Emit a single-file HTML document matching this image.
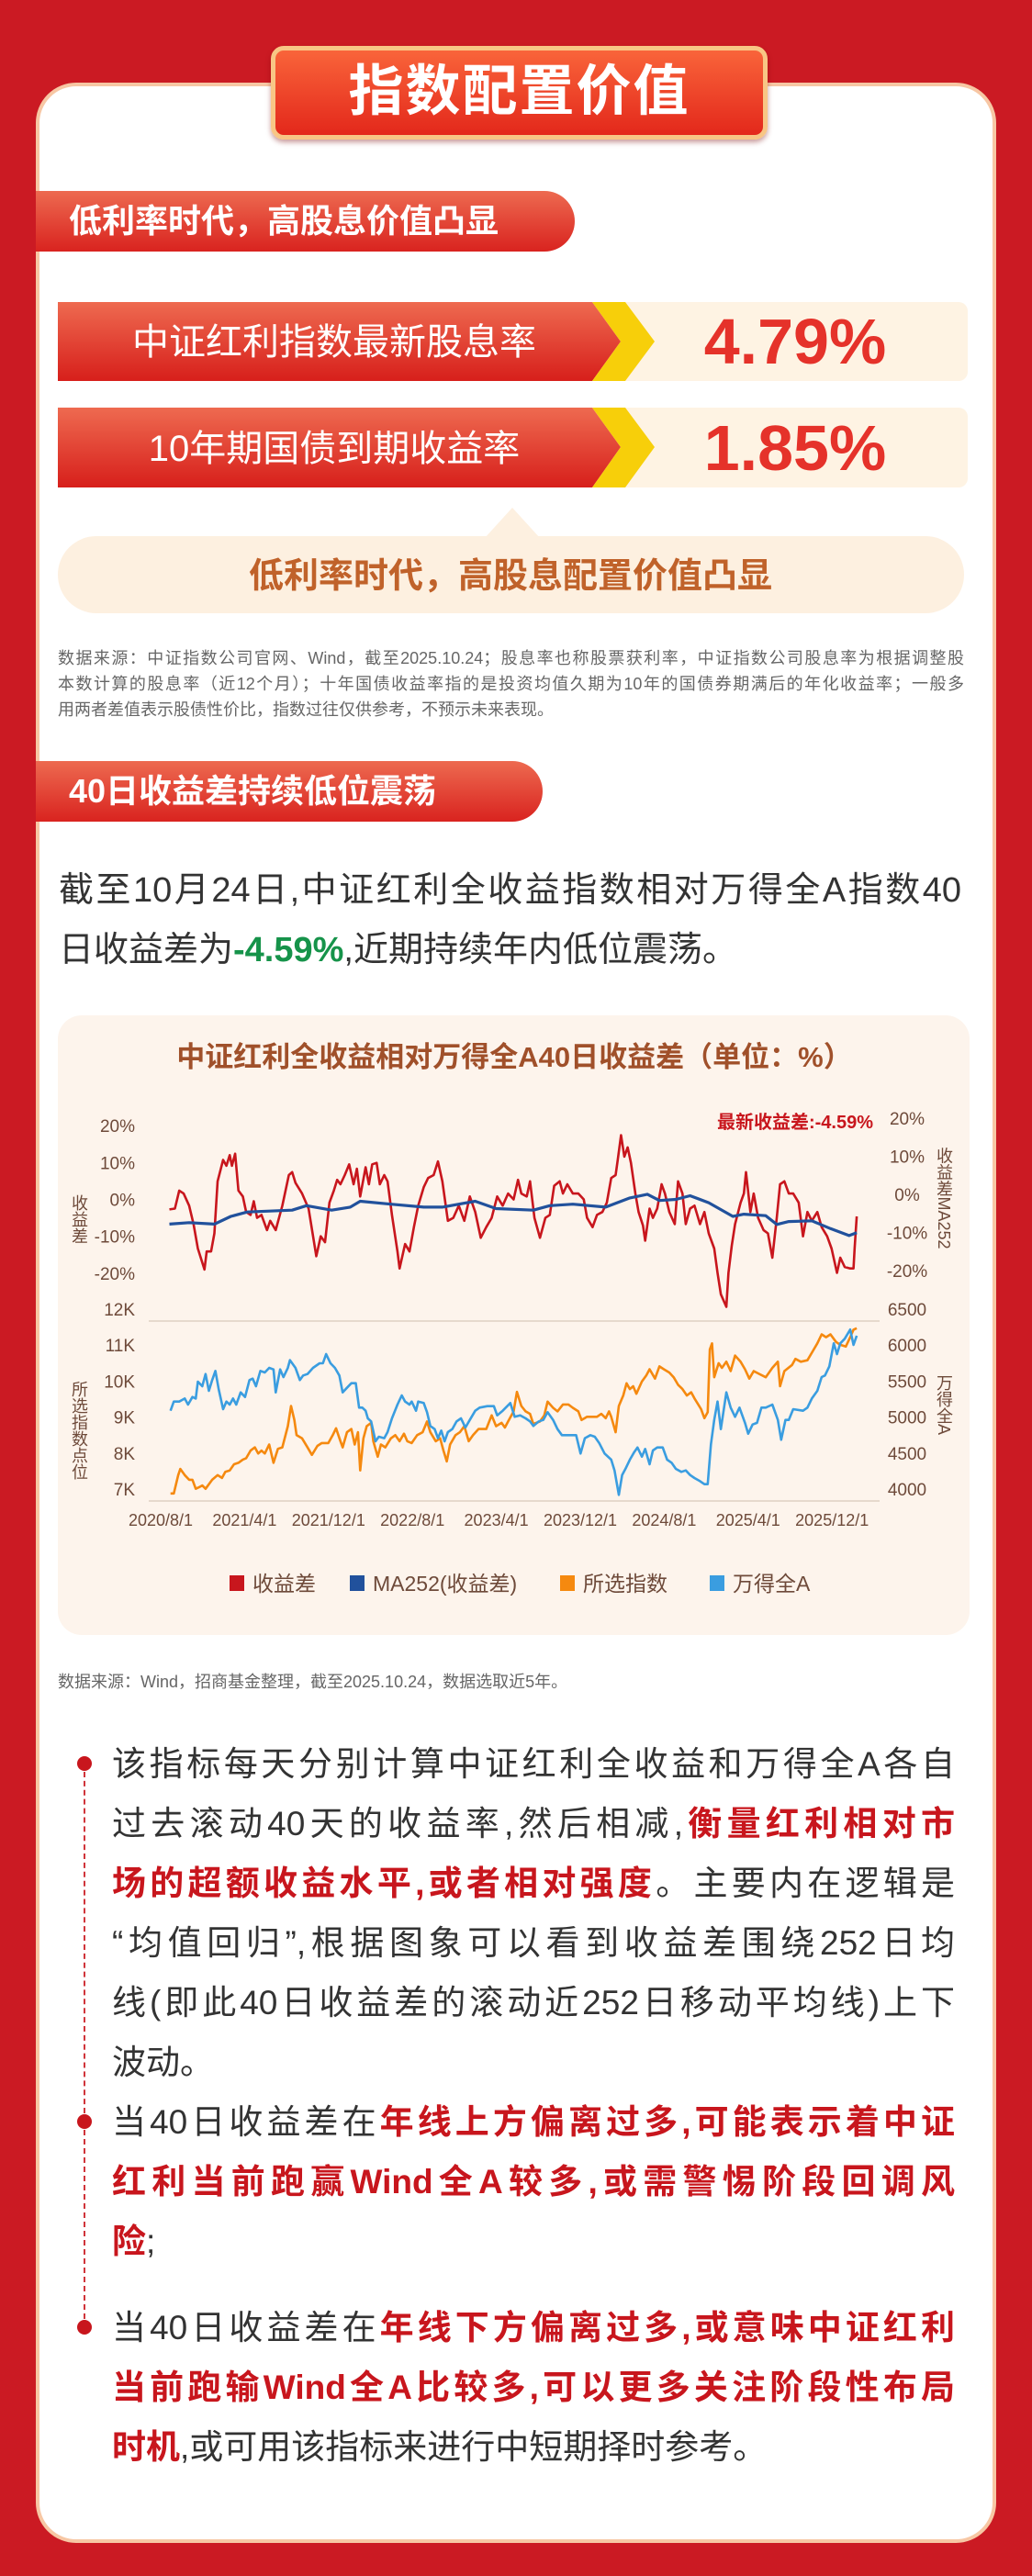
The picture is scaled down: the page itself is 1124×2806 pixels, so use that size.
<!DOCTYPE html>
<html lang="zh"><head><meta charset="utf-8">
<style>
*{margin:0;padding:0;box-sizing:border-box}
html,body{width:1124px;height:2806px;overflow:hidden}
body{background:#cb1a23;position:relative;font-family:"Liberation Sans","Noto Sans CJK SC",sans-serif;color:#333}
.abs{position:absolute}
.card{left:39px;top:90px;width:1046px;height:2680px;background:#fff;border:4px solid #f7c7a4;border-radius:44px}
.banner{left:295px;top:50px;width:541px;height:102px;border-radius:14px;border:5px solid #f8c685;background:linear-gradient(#f9643a,#e3281b);color:#fff;font-weight:bold;font-size:60px;text-align:center;line-height:90px;letter-spacing:2px;box-shadow:0 3px 6px rgba(120,0,0,.4)}
.sec{left:39px;height:66px;border-radius:0 33px 33px 0;background:linear-gradient(#ed6a50,#d9231f);color:#fff;font-weight:bold;font-size:36px;line-height:66px;padding-left:36px}
.just{text-align:justify;text-align-last:justify}
.foot{left:63px;width:987px;font-size:18px;line-height:28px;color:#666}
.para{left:64px;width:983px;font-size:38px;line-height:65px;color:#333}
.bl{left:122px;width:918px;font-size:37px;line-height:65px;color:#333}
.r{color:#c8161d;font-weight:bold}
.dot{width:16px;height:16px;border-radius:50%;background:#c8161d}
.dash{width:0;border-left:2px dashed #d0343a}
</style></head>
<body>
<div class="abs card"></div>
<div class="abs banner">指数配置价值</div>

<div class="abs sec" style="top:208px;width:587px">低利率时代，高股息价值凸显</div>

<svg class="abs" style="left:0;top:0" width="1124" height="700">
 <defs><linearGradient id="rg" x1="0" y1="0" x2="0" y2="1"><stop offset="0" stop-color="#ee6a50"/><stop offset="1" stop-color="#d71f1b"/></linearGradient></defs>
 <rect x="640" y="329" width="414" height="86" rx="10" fill="#fef3e3"/>
 <polygon points="63,329 645,329 676,372 645,415 63,415" fill="url(#rg)"/>
 <polygon points="645,329 681,329 713,372 681,415 645,415 676,372" fill="#f7cf0a"/>
 <text x="364" y="386" font-size="40" fill="#fff" text-anchor="middle">中证红利指数最新股息率</text>
 <text x="866" y="396" font-size="70" font-weight="bold" fill="#e5322a" text-anchor="middle">4.79%</text>
 <rect x="640" y="444" width="414" height="87" rx="10" fill="#fef3e3"/>
 <polygon points="63,444 645,444 676,487 645,531 63,531" fill="url(#rg)"/>
 <polygon points="645,444 681,444 713,487 681,531 645,531 676,487" fill="#f7cf0a"/>
 <text x="364" y="502" font-size="40" fill="#fff" text-anchor="middle">10年期国债到期收益率</text>
 <text x="866" y="512" font-size="70" font-weight="bold" fill="#e5322a" text-anchor="middle">1.85%</text>
 <polygon points="528,586 558,553 588,586" fill="#fdf0e0"/>
 <rect x="63" y="584" width="987" height="84" rx="42" fill="#fdf0e0"/>
 <text x="556" y="640" font-size="38" font-weight="bold" fill="#c0622a" text-anchor="middle">低利率时代，高股息配置价值凸显</text>
</svg>

<div class="abs foot just" style="top:703px"><div>数据来源：中证指数公司官网、Wind，截至2025.10.24；股息率也称股票获利率，中证指数公司股息率为根据调整股</div><div>本数计算的股息率（近12个月）；十年国债收益率指的是投资均值久期为10年的国债券期满后的年化收益率；一般多</div><div style="text-align-last:left">用两者差值表示股债性价比，指数过往仅供参考，不预示未来表现。</div></div>

<div class="abs sec" style="top:829px;width:552px">40日收益差持续低位震荡</div>

<div class="abs para" style="top:938px"><div class="just">截至10月24日,中证红利全收益指数相对万得全A指数40</div><div>日收益差为<span style="color:#16934a;font-weight:bold">-4.59%</span>,近期持续年内低位震荡。</div></div>

<div class="abs" style="left:63px;top:1106px;width:993px;height:675px;background:#fdf4ec;border-radius:26px"></div>

<svg id="chart" class="abs" style="left:0;top:0" width="1124" height="1800"></svg>

<div class="abs" style="left:63px;top:1818px;font-size:18px;color:#666">数据来源：Wind，招商基金整理，截至2025.10.24，数据选取近5年。</div>

<div class="abs dot" style="left:84px;top:1913px"></div>
<div class="abs dash" style="left:91px;top:1930px;height:372px"></div>
<div class="abs dot" style="left:84px;top:2303px"></div>
<div class="abs dash" style="left:91px;top:2320px;height:206px"></div>
<div class="abs dot" style="left:84px;top:2527px"></div>

<div class="abs bl" style="top:1889px">
<div class="just">该指标每天分别计算中证红利全收益和万得全A各自</div>
<div class="just">过去滚动40天的收益率,然后相减,<span class="r">衡量红利相对市</span></div>
<div class="just"><span class="r">场的超额收益水平,或者相对强度</span>。主要内在逻辑是</div>
<div class="just">“均值回归”,根据图象可以看到收益差围绕252日均</div>
<div class="just">线(即此40日收益差的滚动近252日移动平均线)上下</div>
<div>波动。</div>
</div>
<div class="abs bl" style="top:2279px">
<div class="just">当40日收益差在<span class="r">年线上方偏离过多,可能表示着中证</span></div>
<div class="just r">红利当前跑赢Wind全A较多,或需警惕阶段回调风</div>
<div><span class="r">险</span>;</div>
</div>
<div class="abs bl" style="top:2503px">
<div class="just">当40日收益差在<span class="r">年线下方偏离过多,或意味中证红利</span></div>
<div class="just r">当前跑输Wind全A比较多,可以更多关注阶段性布局</div>
<div><span class="r">时机</span>,或可用该指标来进行中短期择时参考。</div>
</div>

<script>
// months since 2020-08 and values
const spreadMonths=[0,0.5,0.9,1.3,1.8,2.2,2.6,3.2,3.4,3.8,4.1,4.4,4.9,5.2,5.5,5.7,6.0,6.3,6.7,7.0,7.4,7.7,8.0,8.4,8.9,9.2,9.7,10.3,10.9,11.2,11.5,12.1,12.7,13.4,13.8,14.2,14.6,15.0,15.3,15.6,16.0,16.4,16.8,17.1,17.4,17.9,18.2,18.5,18.9,19.2,19.6,19.9,20.3,20.8,21.0,21.5,21.9,22.3,22.7,23.2,23.6,24.1,24.5,24.9,25.4,25.9,26.4,26.9,27.4,27.9,28.4,28.9,29.4,29.9,30.4,30.9,31.4,31.8,32.1,32.6,32.9,33.3,33.8,34.3,34.7,35.1,35.6,35.9,36.3,36.8,37.3,37.8,38.1,38.6,39.0,39.5,39.9,40.3,40.7,40.9,41.2,41.5,41.8,42.1,42.5,42.8,43.2,43.4,43.8,44.1,44.5,44.9,45.2,45.6,46.1,46.4,46.8,47.1,47.5,47.9,48.4,48.8,49.2,49.7,50.0,50.3,50.8,51.0,51.3,51.6,52.1,52.4,52.6,53.0,53.3,53.7,54.2,54.6,55.0,55.4,55.7,56.1,56.5,56.9,57.4,57.8,58.2,58.6,59.1,59.5,60.0,60.4,60.9,61.2,61.6,62.1,62.4,62.5,62.7];
const spreadValues=[-2.7,-2.5,2.4,1.6,-1.7,-6.7,-13.3,-19.0,-14.1,-14.1,-9.2,4.9,10.7,9.1,12.0,9.1,12.4,2.4,0.8,-3.4,-4.2,-0.5,-5.0,-4.2,-8.3,-5.8,-8.3,-1.7,6.6,7.4,4.5,1.6,-2.5,-15.4,-10.0,-11.6,-0.9,2.4,5.3,4.1,6.6,9.5,4.1,8.3,0.8,8.7,4.1,9.5,9.9,4.1,6.6,4.9,-4.2,-14.1,-18.7,-12.1,-14.1,-7.5,-1.7,3.3,5.8,6.6,10.3,4.9,-5.8,-5.0,-1.7,-5.8,0.8,-3.4,-10.4,-7.5,-5.0,0.8,-1.7,1.6,0,5.3,1.6,0.8,4.9,-5.0,-10.4,-5.0,-4.2,3.7,4.9,1.6,4.1,1.6,1.6,0,-5.0,-7.5,-4.2,-3.4,-0.9,5.8,6.6,10.7,17.4,11.6,14.1,9.9,1.6,-3.4,-7.1,-11.2,-2.5,-5.0,-2.5,4.1,1.6,-3.4,-6.7,4.9,1.6,-6.7,-2.5,-1.7,-6.7,-3.4,-9.2,-13.3,-19.9,-25.7,-29.1,-19.9,-12.5,-6.7,-0.9,1.6,7.4,-3.4,1.6,-5.0,-8.3,-9.2,-15.8,-5.0,4.1,4.9,1.6,1.6,-0.9,-10.0,-3.4,-5.8,-3.4,-7.5,-10.0,-13.3,-19.9,-15.8,-18.3,-18.7,-18.7,-13.3,-4.6];
const maMonths=[0,1.8,4.1,5.6,7.1,11.2,12.5,14.8,16.5,17.4,20.2,23.2,24.9,27.9,29.8,33.2,34.7,36.8,39.8,42.0,43.6,44.7,46.2,47.5,49.2,51.4,52.4,54.4,55.4,56.5,58.6,60.3,62.0,62.7];
const maValues=[-6.7,-6.3,-6.7,-4.6,-3.4,-2.9,-1.7,-2.9,-2.1,-0.5,-1.3,-2.1,-2.1,-0.5,-2.5,-2.9,-1.7,-1.3,-2.1,0.4,1.4,-0.3,0,1.0,-0.9,-4.6,-4.0,-4.4,-6.8,-6.0,-5.8,-7.9,-9.8,-9.0];
const idxMonths=[0.1,0.4,0.8,1.0,1.4,1.8,2.1,2.4,2.7,3.0,3.3,3.9,4.4,4.8,5.1,5.5,5.9,6.3,6.7,7.0,7.4,7.8,8.1,8.4,8.7,9.1,9.5,9.9,10.3,10.8,11.1,11.4,11.6,12.1,12.6,13.0,13.5,13.9,14.5,14.9,15.2,15.6,15.8,16.2,16.6,16.9,17.2,17.4,17.7,18.0,18.4,18.6,19.0,19.3,19.7,20.2,20.6,21.0,21.4,21.7,22.1,22.6,23.1,23.5,23.8,24.3,24.7,25.0,25.3,25.6,26.1,26.5,26.9,27.3,27.7,28.2,28.9,29.4,29.8,30.3,30.6,30.9,31.4,31.7,32.1,32.5,32.9,33.2,33.8,34.2,34.5,35.0,35.4,35.9,36.4,36.8,37.3,37.6,38.1,39.0,39.4,39.8,40.1,40.3,40.7,41.0,41.4,41.7,42.0,42.3,42.6,43.1,43.5,43.8,44.3,44.7,45.1,45.6,46.0,46.4,46.8,47.2,47.6,47.9,48.5,48.8,49.1,49.3,49.5,49.7,50.1,50.4,50.8,51.2,51.6,52.1,52.5,52.9,53.3,53.8,54.4,55.0,55.5,55.7,56.1,56.8,57.1,57.6,58.2,58.7,59.1,59.5,59.9,60.3,60.8,61.2,61.7,62.1,62.4,62.7];
const idxValuesK=[7.21,7.21,7.72,7.89,7.72,7.59,7.59,7.34,7.38,7.43,7.34,7.59,7.72,7.64,7.81,7.85,8.02,8.06,8.15,8.19,8.40,8.49,8.32,8.40,8.32,8.57,8.06,8.45,8.49,9.08,9.64,9.25,8.83,8.74,8.49,8.28,8.53,8.61,8.61,8.83,9.02,8.66,8.49,8.91,9.00,8.57,8.91,7.85,8.74,9.08,9.17,8.66,8.23,8.57,8.49,8.74,8.83,8.66,8.87,8.66,8.61,8.83,8.91,9.21,8.91,8.66,8.74,8.40,8.10,8.57,8.83,8.91,9.08,8.66,8.83,9.00,9.00,9.38,9.08,9.17,9.04,9.21,9.49,10.03,9.64,9.49,9.42,9.14,9.21,9.38,9.76,9.59,9.49,9.68,9.68,9.59,9.49,9.25,9.34,9.34,9.42,9.30,9.49,9.34,8.91,9.64,9.93,10.27,10.11,10.19,9.98,10.32,10.49,10.66,10.40,10.74,10.66,10.57,10.44,10.23,10.11,9.93,10.02,9.85,9.55,9.30,9.47,11.21,11.38,10.44,10.83,10.70,10.87,10.61,11.04,10.87,10.66,10.40,10.61,10.53,10.44,10.70,10.87,10.19,10.61,10.78,10.95,10.87,10.91,11.17,11.38,11.63,11.55,11.63,11.42,11.34,11.29,11.55,11.76,11.80];
const windMonths=[0.1,0.4,0.9,1.4,1.7,2.1,2.4,2.6,3.0,3.3,3.6,3.9,4.2,4.5,4.9,5.2,5.5,5.8,6.1,6.5,6.9,7.3,7.6,7.9,8.3,8.7,9.1,9.5,9.7,10.1,10.4,10.8,11.0,11.5,11.9,12.2,12.6,13.1,13.7,14.0,14.3,14.7,15.1,15.5,15.8,16.2,16.6,17.0,17.3,17.6,17.9,18.1,18.4,18.8,19.1,19.6,19.9,20.3,20.8,21.2,21.5,21.9,22.1,22.5,22.7,23.2,23.5,23.8,24.2,24.5,24.8,25.1,25.4,25.8,26.2,26.6,27.0,27.4,27.9,28.3,29.0,29.6,29.9,30.4,31.1,31.5,32.0,32.5,32.9,33.2,33.7,34.1,34.5,35.0,35.4,35.8,36.4,37.1,37.5,37.9,38.4,38.8,39.2,39.7,40.3,40.6,41.0,41.3,41.6,42.0,42.4,42.7,43.1,43.4,43.8,44.1,44.5,45.0,45.4,45.8,46.2,46.7,47.1,47.5,47.9,48.4,48.8,49.1,49.4,49.7,50.0,50.3,50.8,51.2,51.6,52.0,52.5,52.8,53.2,53.6,54.0,54.4,55.0,55.5,55.8,56.2,56.5,56.9,57.8,58.2,58.6,59.1,59.5,59.8,60.2,60.6,60.9,61.2,61.6,62.1,62.4,62.7];
const windValues=[5254,5381,5381,5424,5339,5445,5424,5658,5594,5764,5531,5680,5807,5552,5276,5381,5339,5424,5339,5509,5445,5680,5700,5594,5807,5786,5849,5828,5509,5828,5722,5849,5956,5849,5680,5743,5764,5849,5913,5913,6041,5913,5849,5743,5509,5573,5637,5637,5297,5297,5254,5148,5106,4829,4893,4872,4957,5148,5339,5467,5381,5339,5381,5254,5381,5361,5233,5042,4999,4872,4978,4829,4957,4999,5106,5148,5020,5126,5254,5297,5318,5318,5190,5254,5361,5170,5190,5148,5106,5042,5106,5126,5233,5126,4999,4914,4914,4914,4659,4872,4914,4893,4808,4659,4574,4425,4085,4361,4447,4574,4680,4744,4616,4723,4510,4702,4744,4744,4574,4532,4447,4404,4425,4361,4319,4276,4234,4234,4787,5126,5381,4999,5509,5297,5170,5297,5085,4935,5063,5085,5297,5297,5339,5126,4851,5126,5126,5276,5254,5297,5424,5531,5722,5743,5871,6190,6041,6190,6254,6381,6168,6296];
const xTickLabels=["2020/8/1","2021/4/1","2021/12/1","2022/8/1","2023/4/1","2023/12/1","2024/8/1","2025/4/1","2025/12/1"];
const leftTopTicks=[20,10,0,-10,-20];
const leftBotTicks=[12,11,10,9,8,7];
const rightBotTicks=[6500,6000,5500,5000,4500,4000];
const legendNames=["收益差","MA252(收益差)","所选指数","万得全A"];
const legendColors=["#c8161d","#21519c","#f5890f","#3a9de0"];

const NS="http://www.w3.org/2000/svg";
const svg=document.getElementById('chart');
const xS=m=>184.5+m*11.94;
const yTop=v=>1306.5-v*4.02;
const yL=k=>1439+(12-k)*39.2;
const yR=v=>1439+(6500-v)*0.0784;
function mk(tag,attrs,txt){const e=document.createElementNS(NS,tag);for(const k in attrs)e.setAttribute(k,attrs[k]);if(txt!==undefined)e.textContent=txt;svg.appendChild(e);return e;}
const brown="#6e4a3a";

let t=mk('text',{x:560,y:1162,'font-size':31,'font-weight':'bold',fill:'#a0502a','text-anchor':'middle'},'中证红利全收益相对万得全A40日收益差（单位：%）');


t=mk('text',{x:951,y:1229,'font-size':20,'font-weight':'bold',fill:'#c8161d','text-anchor':'end'},'最新收益差:-4.59%');



let g=mk('line',{x1:162,x2:958,y1:1439,y2:1439,stroke:'#e6d9cd','stroke-width':2});


g=mk('line',{x1:162,x2:958,y1:1635,y2:1635,stroke:'#e6d9cd','stroke-width':2});



leftTopTicks.forEach(v=>{const e=mk('text',{x:147,y:yTop(v)+7,'font-size':19,fill:brown,'text-anchor':'end'},v+'%');

});
leftTopTicks.forEach((v,i)=>{const e=mk('text',{x:988,y:1225+i*41.5,'font-size':19,fill:brown,'text-anchor':'middle'},v+'%');

});
leftBotTicks.forEach(k=>{const e=mk('text',{x:147,y:yL(k)-6,'font-size':19,fill:brown,'text-anchor':'end'},k+'K');

});
rightBotTicks.forEach(v=>{const e=mk('text',{x:988,y:yR(v)-6,'font-size':19,fill:brown,'text-anchor':'middle'},v);

});
xTickLabels.forEach((s,i)=>{const e=mk('text',{x:175+i*91.4,y:1662,'font-size':18,fill:brown,'text-anchor':'middle'},s);

});

[[86,1328,'收益差','left-top-axis-title'],[86,1558,'所选指数点位','left-bottom-axis-title'],[1028,1305,'收益差MA252','right-top-axis-title'],[1028,1530,'万得全A','right-bottom-axis-title']].forEach(a=>{
const e=mk('text',{x:a[0],y:a[1],'font-size':18,fill:brown,'text-anchor':'middle',style:'writing-mode:vertical-rl'},a[2]);

});

function line(ms,vs,ys,col,w,name){const d=ms.map((m,i)=>(i?'L':'M')+xS(m).toFixed(1)+','+ys(vs[i]).toFixed(1)).join('');
const p=mk('path',{d:d,fill:'none',stroke:col,'stroke-width':w,'stroke-linejoin':'round'});

}
line(idxMonths,idxValuesK,yL,legendColors[2],2.6,'selected-index-line');
line(windMonths,windValues,yR,legendColors[3],2.6,'wind-all-a-line');
line(spreadMonths,spreadValues,yTop,legendColors[0],2.6,'spread-line');
line(maMonths,maValues,yTop,legendColors[1],3.2,'ma252-line');

const legX=[250,381,610,773];
legendNames.forEach((n,i)=>{
const r=mk('rect',{x:legX[i],y:1716,width:16,height:17,fill:legendColors[i]});


const e=mk('text',{x:legX[i]+25,y:1733,'font-size':23,fill:brown},n);

});
</script>
</body></html>
